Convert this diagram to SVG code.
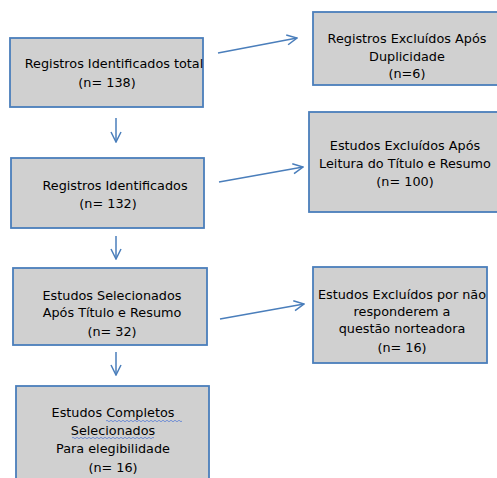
<svg xmlns="http://www.w3.org/2000/svg" width="497" height="478" viewBox="0 0 497 478">
<defs>
<style>
.box{fill:#d0d0d0;stroke:#4a7ebb;stroke-width:1.8}
.t{font-family:"DejaVu Sans",Verdana,sans-serif;font-size:12.8px;fill:#000;text-anchor:middle}
.c{stroke:#4a7ebb;stroke-width:1.5;fill:none}
.sq{stroke:#5b7fd6;stroke-width:0.8;fill:none}
</style>
<marker id="ah" viewBox="0 0 12 12" refX="11" refY="6" markerWidth="12" markerHeight="12" markerUnits="userSpaceOnUse" orient="auto">
<path d="M1,1 L11,6 L1,11" fill="none" stroke="#4a7ebb" stroke-width="1.5"/>
</marker>
</defs>
<rect width="497" height="478" fill="#fff"/>
<g id="n1"><rect class="box" x="10" y="38" width="193" height="69"/>
<text class="t" x="114" y="68">Registros Identificados total</text>
<text class="t" x="107" y="87">(n= 138)</text></g>
<g id="n2"><rect class="box" x="11" y="158" width="193" height="70"/>
<text class="t" x="115" y="190">Registros Identificados</text>
<text class="t" x="108" y="208">(n= 132)</text></g>
<g id="n3"><rect class="box" x="13" y="268" width="194" height="77"/>
<text class="t" x="112" y="300">Estudos Selecionados</text>
<text class="t" x="112" y="317">Após Título e Resumo</text>
<text class="t" x="112" y="336">(n= 32)</text></g>
<g id="n4"><rect class="box" x="16" y="386" width="193" height="100"/>
<text class="t" x="113" y="417">Estudos Completos</text>
<text class="t" x="113" y="435">Selecionados</text>
<text class="t" x="113" y="453">Para elegibilidade</text>
<text class="t" x="113" y="472">(n= 16)</text>
<path class="sq" d="M106,421 q1,-1.5 2,0 t2,0 t2,0 t2,0 t2,0 t2,0 t2,0 t2,0 t2,0 t2,0 t2,0 t2,0 t2,0 t2,0 t2,0 t2,0 t2,0 t2,0 t2,0 t2,0 t2,0 t2,0 t2,0 t2,0 t2,0 t2,0 t2,0 t2,0 t2,0 t2,0 t2,0 t2,0 t2,0 t2,0 t2,0 t2,0 t2,0 t2,0"/>
<path class="sq" d="M72,438 q1,-1.5 2,0 t2,0 t2,0 t2,0 t2,0 t2,0 t2,0 t2,0 t2,0 t2,0 t2,0 t2,0 t2,0 t2,0 t2,0 t2,0 t2,0 t2,0 t2,0 t2,0 t2,0 t2,0 t2,0 t2,0 t2,0 t2,0 t2,0 t2,0 t2,0 t2,0 t2,0 t2,0 t2,0 t2,0 t2,0 t2,0 t2,0 t2,0 t2,0 t2,0 t2,0"/></g>
<g id="r1"><rect class="box" x="313" y="12" width="190" height="73"/>
<text class="t" x="407" y="43">Registros Excluídos Após</text>
<text class="t" x="407" y="61">Duplicidade</text>
<text class="t" x="407" y="78">(n=6)</text></g>
<g id="r2"><rect class="box" x="309" y="112" width="194" height="100"/>
<text class="t" x="405" y="150">Estudos Excluídos Após</text>
<text class="t" x="405" y="168">Leitura do Título e Resumo</text>
<text class="t" x="405" y="186">(n= 100)</text></g>
<g id="r3"><rect class="box" x="313" y="267" width="174" height="96"/>
<text class="t" x="402" y="299">Estudos Excluídos por não</text>
<text class="t" x="402" y="316">responderem a</text>
<text class="t" x="402" y="333">questão norteadora</text>
<text class="t" x="402" y="352">(n= 16)</text></g>
<g id="connectors">
<line class="c" x1="116" y1="118" x2="116" y2="142" marker-end="url(#ah)"/>
<line class="c" x1="116" y1="236" x2="116" y2="259" marker-end="url(#ah)"/>
<line class="c" x1="116" y1="352" x2="116" y2="375" marker-end="url(#ah)"/>
<line class="c" x1="218" y1="53" x2="297" y2="38" marker-end="url(#ah)"/>
<line class="c" x1="219" y1="182" x2="303" y2="167" marker-end="url(#ah)"/>
<line class="c" x1="220" y1="319" x2="304" y2="304" marker-end="url(#ah)"/>
</g>
</svg>
